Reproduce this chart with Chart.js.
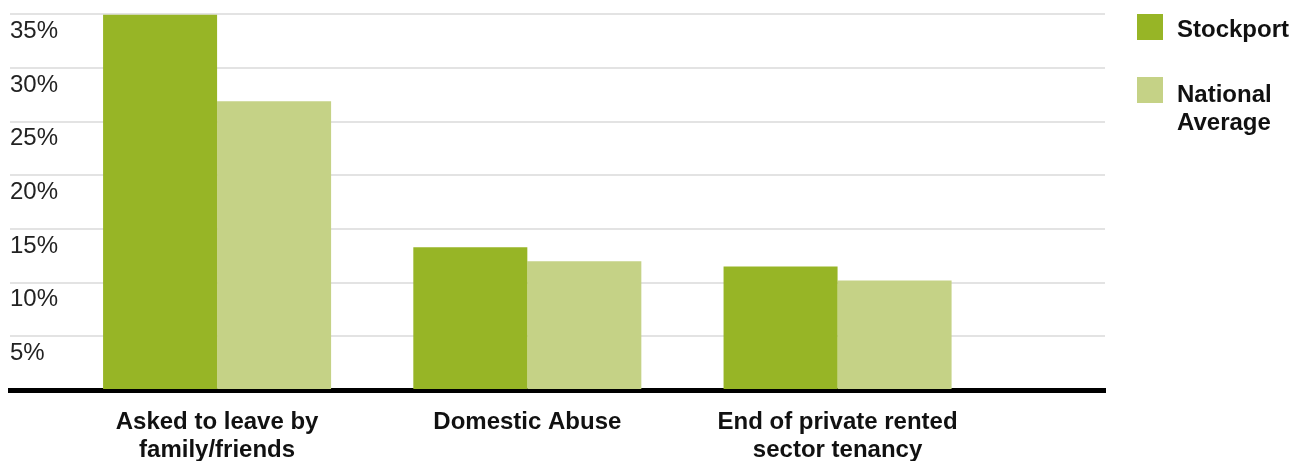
<!DOCTYPE html>
<html>
<head>
<meta charset="UTF-8">
<title>Homelessness reasons - Stockport vs National Average</title>
<script src="https://cdn.jsdelivr.net/npm/chart.js"></script>
<style>
  body {
    margin: 0;
    background: #fff;
    font-family: 'Liberation Sans', Arial, sans-serif;
  }
  .wrap {
    position: relative;
    width: 1310px;
    height: 461px;
  }
  .legend {
    position: absolute;
    left: 1137px;
    top: 0;
  }
  .legend-item {
    position: absolute;
    left: 0;
    white-space: nowrap;
  }
  .legend-item .box {
    position: absolute;
    left: 0;
    width: 26px;
    height: 26px;
  }
  .legend-item .txt {
    position: absolute;
    left: 40px;
    top: 1px;
    font-weight: bold;
    font-size: 24px;
    line-height: 28px;
    color: #111;
  }
</style>
</head>
<body>
<div class="wrap">
  <canvas id="chart" width="1310" height="461"></canvas>
  <div class="legend" id="legend"></div>
</div>

<script>
  // data
  const categories = [
    ['Asked to leave by', 'family/friends'],
    ['Domestic Abuse'],
    ['End of private rented', 'sector tenancy']
  ];
  const seriesNames = [['Stockport'], ['National', 'Average']];
  const stockport = [35, 13.3, 11.5];
  const national = [26.9, 12.0, 10.2];
  const yTicks = [0, 5, 10, 15, 20, 25, 30, 35];

  const colors = ['#97b526', '#c5d286'];

  const toPoints = arr => arr.map((v, i) => ({ x: i, y: v }));

  const ctx = document.getElementById('chart').getContext('2d');
  const chart = new Chart(ctx, {
    type: 'bar',
    data: {
      datasets: [
        { label: seriesNames[0].join(' '), data: toPoints(stockport), backgroundColor: colors[0] },
        { label: seriesNames[1].join(' '), data: toPoints(national), backgroundColor: colors[1] }
      ]
    },
    options: {
      responsive: false,
      animation: false,
      categoryPercentage: 0.735,
      barPercentage: 1,
      layout: { padding: { left: 10, right: 205, top: 13, bottom: 0 } },
      plugins: {
        legend: { display: false },
        tooltip: { enabled: false }
      },
      scales: {
        x: {
          type: 'linear',
          offset: false,
          min: -0.6675,
          max: 2.862,
          afterBuildTicks: scale => {
            scale.ticks = categories.map((c, i) => ({ value: i }));
          },
          afterFit: scale => { scale.height = 71; },
          grid: { display: false, drawTicks: false, offset: false },
          border: { display: true, color: '#000', width: 5 },
          ticks: {
            padding: 18,
            maxRotation: 0,
            autoSkip: false,
            color: '#111',
            font: { family: "'Liberation Sans', Arial, sans-serif", size: 24, weight: 'bold', lineHeight: 1.1667 },
            callback: v => categories[v]
          }
        },
        y: {
          min: 0,
          max: 35,
          afterBuildTicks: scale => {
            scale.ticks = yTicks.map(v => ({ value: v }));
          },
          afterFit: scale => { scale.width = 0; },
          grid: {
            drawTicks: false,
            lineWidth: 2,
            color: c => (c.tick && c.tick.value === 0) ? 'rgba(0,0,0,0)' : '#e3e3e3'
          },
          border: { display: false },
          ticks: {
            mirror: true,
            padding: 0,
            labelOffset: 17,
            color: '#222',
            font: { family: "'Liberation Sans', Arial, sans-serif", size: 24 },
            callback: v => v === 0 ? '' : v + '%'
          }
        }
      }
    }
  });

  // html legend built from the series names
  const legend = document.getElementById('legend');
  const legendTops = [14, 79];
  seriesNames.forEach((name, i) => {
    const item = document.createElement('div');
    item.className = 'legend-item';
    item.style.top = legendTops[i] + 'px';
    const box = document.createElement('div');
    box.className = 'box';
    box.style.background = colors[i];
    box.style.top = (i === 1 ? -2 : 0) + 'px';
    const txt = document.createElement('div');
    txt.className = 'txt';
    txt.innerHTML = name.join('<br>');
    item.appendChild(box);
    item.appendChild(txt);
    legend.appendChild(item);
  });
</script>
</body>
</html>
